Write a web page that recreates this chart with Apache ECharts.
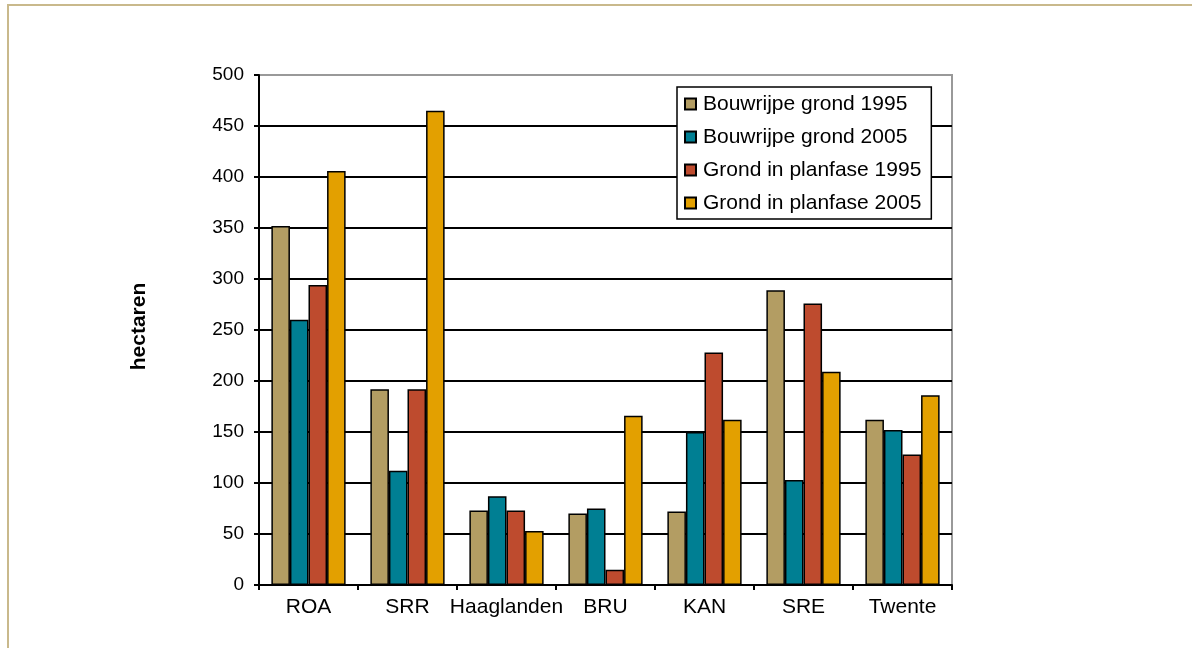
<!DOCTYPE html>
<html>
<head>
<meta charset="utf-8">
<script src="https://cdn.jsdelivr.net/npm/echarts@6/dist/echarts.min.js"></script>
<style>
html,body{margin:0;padding:0;background:#fff;}
#chart{width:1192px;height:648px;}
</style>
</head>
<body>
<div id="chart"></div>
<script>
// Regions and hectare figures
const regions = ['ROA', 'SRR', 'Haaglanden', 'BRU', 'KAN', 'SRE', 'Twente'];
const seriesNames = ['Bouwrijpe grond 1995', 'Bouwrijpe grond 2005', 'Grond in planfase 1995', 'Grond in planfase 2005'];
const bouwrijpe1995 = [352, 192, 73, 70, 72, 289, 162];
const bouwrijpe2005 = [260, 112, 87, 75, 150, 103, 152];
const planfase1995 = [294, 192, 73, 15, 228, 276, 128];
const planfase2005 = [406, 465, 53, 166, 162, 209, 186];
const seriesColors = ['#B39D63', '#007F93', '#BE4B2E', '#E3A000'];

const FONT = '"Liberation Sans", Arial, sans-serif';
const values = [bouwrijpe1995, bouwrijpe2005, planfase1995, planfase2005];

const gridColors = [];
for (let i = 0; i < 10; i++) gridColors.push('#000');
gridColors.push('#999');

const chart = echarts.init(document.getElementById('chart'), null, {renderer: 'canvas'});
chart.setOption({
  backgroundColor: '#fff',
  animation: false,
  textStyle: {fontFamily: FONT},
  graphic: [{
    type: 'rect',
    shape: {x: 8, y: 5, width: 1300, height: 800},
    style: {fill: 'none', stroke: '#C9B98C', lineWidth: 2},
    silent: true,
    z: -1
  }],
  grid: {
    left: 259, top: 75, right: 240, bottom: 63,
    show: true, borderColor: '#999', borderWidth: 2, backgroundColor: 'transparent'
  },
  legend: {
    orient: 'vertical',
    left: 677, top: 87,
    padding: [6, 10, 5, 7],
    itemGap: 11,
    itemWidth: 11, itemHeight: 11,
    icon: 'rect',
    backgroundColor: '#fff',
    borderColor: '#000', borderWidth: 1.5,
    textStyle: {fontFamily: FONT, fontSize: 21, color: '#000', lineHeight: 22, padding: [0, 0, 0, 2]},
    data: seriesNames
  },
  xAxis: {
    type: 'category',
    data: regions,
    axisLine: {lineStyle: {color: '#000', width: 2}},
    axisTick: {show: true, length: 5, lineStyle: {color: '#000', width: 2}},
    axisLabel: {color: '#000', fontSize: 21, fontFamily: FONT, margin: 12, interval: 0},
    splitLine: {show: false}
  },
  yAxis: {
    type: 'value',
    min: 0, max: 500, interval: 50,
    name: 'hectaren',
    nameLocation: 'middle',
    nameGap: 109,
    nameTextStyle: {fontFamily: FONT, fontSize: 21, fontWeight: 'bold', color: '#000', padding: [0, 0, 0, 7]},
    axisLine: {show: true, lineStyle: {color: '#000', width: 2}},
    axisTick: {show: true, length: 5, lineStyle: {color: '#000', width: 2}},
    axisLabel: {color: '#000', fontSize: 19, fontFamily: FONT, margin: 15},
    splitLine: {show: true, lineStyle: {color: gridColors, width: 2}}
  },
  series: seriesNames.map((name, i) => ({
    name: name,
    type: 'bar',
    data: values[i],
    barGap: '0%',
    barCategoryGap: '25%',
    itemStyle: {color: seriesColors[i], borderColor: '#000', borderWidth: 1.5}
  }))
});
</script>
</body>
</html>
